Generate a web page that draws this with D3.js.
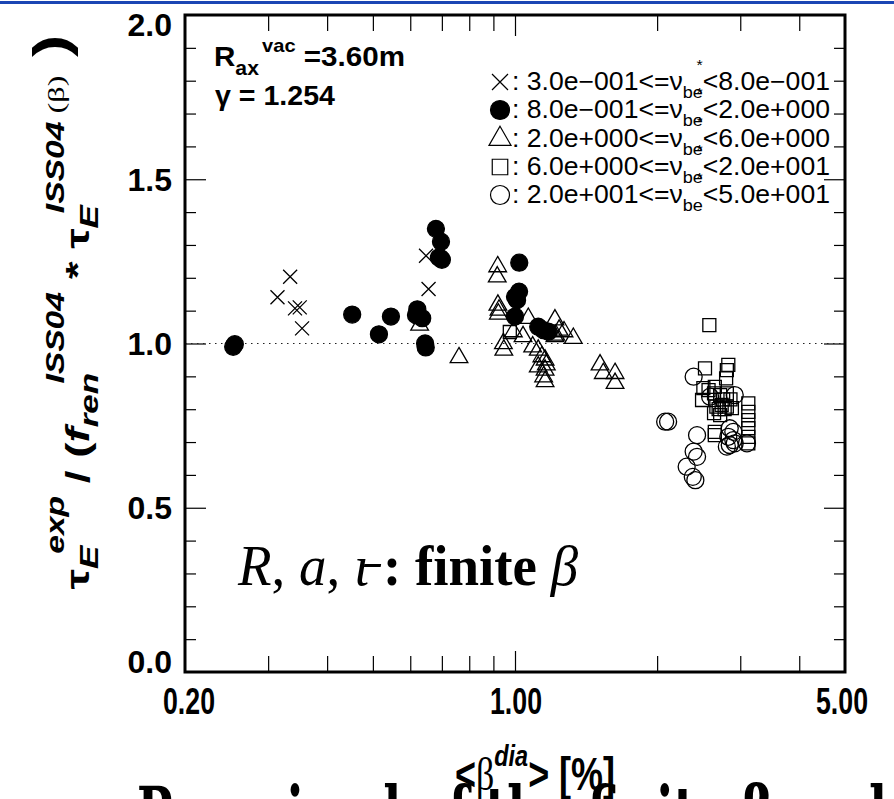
<!DOCTYPE html>
<html><head><meta charset="utf-8">
<script src="https://cdn.jsdelivr.net/npm/d3@7"></script>
<style>body{margin:0;background:#fff}svg{display:block}</style>
</head><body>
<script>
// ---------------- data ----------------
const crossX = [0.334, 0.314, 0.342, 0.350, 0.354, 0.648, 0.656];
const crossY = [1.203, 1.141, 1.107, 1.110, 1.046, 1.267, 1.166];

const dotX = [0.255, 0.253, 0.452, 0.515, 0.546, 0.621, 0.617, 0.636, 0.645, 0.647, 0.680, 0.697, 0.690, 0.700, 0.695, 1.021, 1.020, 1.000, 1.010, 1.000, 1.120, 1.148, 1.177];
const dotY = [0.998, 0.990, 1.088, 1.028, 1.082, 1.104, 1.087, 1.077, 1.000, 0.988, 1.349, 1.310, 1.262, 1.255, 1.260, 1.246, 1.158, 1.142, 1.132, 1.082, 1.051, 1.041, 1.036];

const triX = [0.628, 0.761, 0.919, 0.917, 0.920, 0.925, 0.922, 0.945, 0.947, 0.992, 1.067, 1.040, 1.090, 1.120, 1.215, 1.240, 1.270, 1.220, 1.215, 1.329, 1.158, 1.165, 1.158, 1.150, 1.158, 1.140, 1.120, 1.514, 1.538, 1.629, 1.629];
const triY = [1.056, 0.957, 1.234, 1.203, 1.117, 1.102, 1.090, 1.000, 0.980, 1.036, 1.077, 1.021, 0.990, 0.980, 1.072, 1.041, 1.036, 1.026, 1.021, 1.016, 0.950, 0.935, 0.919, 0.899, 0.884, 0.960, 0.929, 0.935, 0.909, 0.909, 0.879];

const sqX = [0.975, 2.58, 2.526, 2.83, 2.81, 2.80, 2.506, 2.57, 2.65, 2.49, 2.64, 2.72, 2.81, 2.67, 2.74, 2.81, 2.88, 2.64, 2.72, 3.12, 3.12, 3.12, 3.12, 3.12, 3.12, 2.65, 2.65, 2.76, 2.86, 2.70, 2.78];
const sqY = [1.035, 1.056, 0.924, 0.935, 0.919, 0.894, 0.864, 0.858, 0.868, 0.828, 0.848, 0.843, 0.848, 0.808, 0.813, 0.808, 0.803, 0.788, 0.782, 0.818, 0.792, 0.767, 0.742, 0.716, 0.696, 0.731, 0.721, 0.830, 0.830, 0.800, 0.800];

const ringX = [2.39, 2.11, 2.08, 2.43, 2.39, 2.43, 2.31, 2.38, 2.41, 2.92, 2.59, 2.85, 2.83, 2.90, 2.85, 2.81, 2.92, 3.10, 2.90];
const ringY = [0.899, 0.762, 0.762, 0.721, 0.671, 0.655, 0.625, 0.594, 0.584, 0.843, 0.838, 0.742, 0.716, 0.706, 0.691, 0.686, 0.696, 0.696, 0.731];

const legendLo = ["3.0e\u2212001", "8.0e\u2212001", "2.0e+000", "6.0e+000", "2.0e+001"];
const legendHi = ["8.0e\u2212001", "2.0e+000", "6.0e+000", "2.0e+001", "5.0e+001"];

const xMinorTicks = [0.3, 0.4, 0.5, 0.6, 0.7, 0.8, 0.9, 2, 3, 4];
const xMajorTicks = [1];
const xLabelValues = [0.2, 1, 5];
const xLabelText = ["0.20", "1.00", "5.00"];
const yMinorTicks = [0.1, 0.2, 0.3, 0.4, 0.6, 0.7, 0.8, 0.9, 1.1, 1.2, 1.3, 1.4, 1.6, 1.7, 1.8, 1.9];
const yMajorTicks = [0.5, 1.0, 1.5];
const yLabelValues = [0, 0.5, 1.0, 1.5, 2.0];
const yLabelText = ["0.0", "0.5", "1.0", "1.5", "2.0"];

// ---------------- drawing ----------------
const W = 894, H = 799;
const svg = d3.select("body").append("svg").attr("width", W).attr("height", H)
  .style("font-family", "'Liberation Sans', Arial, sans-serif");
svg.append("rect").attr("width", W).attr("height", H).attr("fill", "#fff");

// clipped slide caption at the bottom (only the tops of the tallest glyphs show)
svg.append("text").attr("x", 137).attr("y", 839).attr("font-size", 72).attr("font-weight", "bold")
  .style("font-family", "'DejaVu Serif', serif")
  .attr("textLength", 750).attr("lengthAdjust", "spacingAndGlyphs")
  .text("Remained of the finite \u03b2 and");

svg.append("rect").attr("x", 0).attr("y", 1).attr("width", W).attr("height", 3).attr("fill", "#1b46b4");

const L = 185, R = 845, T = 15, B = 672;
const x = d3.scaleLog().domain([0.2, 5]).range([L, R]);
const y = d3.scaleLinear().domain([0, 2]).range([B, T]);

function ticks(axis, pos, vals, size) {
  const g = svg.append("g").attr("transform", pos).call(axis.tickValues(vals).tickSize(-size).tickFormat(""));
  g.select(".domain").remove();
  g.selectAll("line").attr("stroke", "#000").attr("stroke-width", 1.2);
}
ticks(d3.axisBottom(x), `translate(0,${B})`, xMinorTicks, 16);
ticks(d3.axisBottom(x), `translate(0,${B})`, xMajorTicks, 21);
ticks(d3.axisTop(x), `translate(0,${T})`, xMinorTicks, 16);
ticks(d3.axisTop(x), `translate(0,${T})`, xMajorTicks, 21);
ticks(d3.axisLeft(y), `translate(${L},0)`, yMinorTicks, 11);
ticks(d3.axisLeft(y), `translate(${L},0)`, yMajorTicks, 21);
ticks(d3.axisRight(y), `translate(${R},0)`, yMinorTicks, 11);
ticks(d3.axisRight(y), `translate(${R},0)`, yMajorTicks, 21);

// reference line at 1.0
svg.append("line").attr("x1", x(0.2)).attr("x2", x(5)).attr("y1", y(1)).attr("y2", y(1))
  .attr("stroke", "#222").attr("stroke-width", 1.2).attr("stroke-dasharray", "1.5,4.5");

// frame
svg.append("rect").attr("x", L).attr("y", T).attr("width", R - L).attr("height", B - T)
  .attr("fill", "none").attr("stroke", "#000").attr("stroke-width", 3);

// tick labels
yLabelValues.forEach((v, i) => {
  const cy = Math.min(Math.max(y(v), 24), 661);
  svg.append("text").attr("x", 172).attr("y", cy + 11.5).attr("text-anchor", "end")
    .attr("font-size", 32).attr("font-weight", "bold").text(yLabelText[i]);
});
const xLabelShift = [4, 1, -3];
xLabelValues.forEach((v, i) => {
  svg.append("text").attr("x", x(v) + xLabelShift[i] - 26).attr("y", 714)
    .attr("font-size", 37).attr("font-weight", "bold")
    .attr("textLength", 52).attr("lengthAdjust", "spacingAndGlyphs").text(xLabelText[i]);
});

// markers
const gm = svg.append("g").attr("stroke", "#000").attr("stroke-width", 1.3);
function crossPath(cx, cy, h) { return `M${cx-h},${cy-h}L${cx+h},${cy+h}M${cx-h},${cy+h}L${cx+h},${cy-h}`; }
crossX.forEach((v, i) => gm.append("path").attr("d", crossPath(x(v), y(crossY[i]), 7)).attr("fill", "none"));
const tri = d3.symbol().type(d3.symbolTriangle).size(135);
const sq = d3.symbol().type(d3.symbolSquare).size(169);
triX.forEach((v, i) => gm.append("path").attr("d", tri()).attr("transform", `translate(${x(v)},${y(triY[i])})`).attr("fill", "none"));
sqX.forEach((v, i) => gm.append("path").attr("d", sq()).attr("transform", `translate(${x(v)},${y(sqY[i])})`).attr("fill", "none"));
ringX.forEach((v, i) => gm.append("circle").attr("cx", x(v)).attr("cy", y(ringY[i])).attr("r", 8.5).attr("fill", "none"));
dotX.forEach((v, i) => gm.append("circle").attr("cx", x(v)).attr("cy", y(dotY[i])).attr("r", 8.5).attr("fill", "#000"));

// legend
const legBase = [90, 118, 147, 175, 203];
const lg = svg.append("g");
legBase.forEach((b, i) => {
  const cx = 500, cy = b - 8;
  const m = lg.append("g").attr("stroke", "#000").attr("stroke-width", 1.2).attr("fill", "none");
  if (i === 0) m.append("path").attr("d", crossPath(cx, cy, 8));
  if (i === 1) m.append("circle").attr("cx", cx).attr("cy", cy).attr("r", 9.5).attr("fill", "#000");
  if (i === 2) m.append("path").attr("d", d3.symbol().type(d3.symbolTriangle).size(210)()).attr("transform", `translate(${cx},${cy})`);
  if (i === 3) m.append("path").attr("d", d3.symbol().type(d3.symbolSquare).size(240)()).attr("transform", `translate(${cx},${cy})`);
  if (i === 4) m.append("circle").attr("cx", cx).attr("cy", cy).attr("r", 9.5);
  const t = lg.append("text").attr("x", 512).attr("y", b).attr("font-size", 25)
    .attr("textLength", 318).attr("lengthAdjust", "spacingAndGlyphs");
  t.append("tspan").text(": " + legendLo[i] + "<=\u03bd");
  t.append("tspan").attr("font-size", 17).attr("dy", 8).text("be");
  t.append("tspan").attr("font-size", 15).attr("dy", -28).attr("dx", -6).text("*");
  t.append("tspan").attr("font-size", 25).attr("dy", 20).text("<" + legendHi[i]);
});

// annotation Rax / gamma
const t1 = svg.append("text").attr("x", 214).attr("y", 66).attr("font-size", 28).attr("font-weight", "bold")
  .attr("textLength", 191).attr("lengthAdjust", "spacingAndGlyphs");
t1.append("tspan").text("R");
t1.append("tspan").attr("font-size", 20).attr("dy", 9).text("ax");
t1.append("tspan").attr("font-size", 19).attr("dy", -23).attr("dx", 3).text("vac");
t1.append("tspan").attr("font-size", 28).attr("dy", 14).text(" =3.60m");
svg.append("text").attr("x", 215).attr("y", 105).attr("font-size", 28).attr("font-weight", "bold")
  .attr("textLength", 120).attr("lengthAdjust", "spacingAndGlyphs").text("\u03b3 = 1.254");

// finite beta label
const t2 = svg.append("text").attr("x", 238).attr("y", 585).attr("font-size", 56)
  .style("font-family", "'Liberation Serif', 'Times New Roman', serif")
  .attr("textLength", 340).attr("lengthAdjust", "spacingAndGlyphs");
t2.append("tspan").attr("font-style", "italic").text("R");
t2.append("tspan").text(", ");
t2.append("tspan").attr("font-style", "italic").text("a");
t2.append("tspan").text(", ");
t2.append("tspan").attr("font-style", "italic").text("\u03b9\u0335");
t2.append("tspan").attr("font-weight", "bold").text(" : finite ");
t2.append("tspan").attr("font-style", "italic").text("\u03b2");

// x title
const t3 = svg.append("text").attr("x", 455).attr("y", 790).attr("font-size", 46).attr("font-weight", "bold")
  .attr("textLength", 160).attr("lengthAdjust", "spacingAndGlyphs");
t3.append("tspan").text("<");
t3.append("tspan").attr("font-weight", "normal").style("font-family", "'Liberation Serif', serif").text("\u03b2");
t3.append("tspan").attr("font-size", 30).attr("font-style", "italic").attr("dy", -24).text("dia");
t3.append("tspan").attr("dy", 24).text(">");
t3.append("tspan").text(" [%]");

// y title (rotated)
const t4 = svg.append("text").attr("transform", "translate(89,312) rotate(-90)")
  .attr("text-anchor", "middle").attr("font-size", 34).attr("font-weight", "bold")
  .attr("textLength", 555).attr("lengthAdjust", "spacingAndGlyphs");
t4.append("tspan").text("\u03c4");
t4.append("tspan").attr("font-size", 26).attr("font-style", "italic").attr("dy", 9).text("E");
t4.append("tspan").attr("font-size", 25).attr("font-style", "italic").attr("dy", -34).attr("dx", -6).text("exp");
t4.append("tspan").attr("dy", 25).text(" / (");
t4.append("tspan").attr("font-style", "italic").text("f");
t4.append("tspan").attr("font-size", 26).attr("font-style", "italic").attr("dy", 9).text("ren");
t4.append("tspan").attr("font-size", 25).attr("font-style", "italic").attr("dy", -34).attr("dx", -8).text("ISS04");
t4.append("tspan").attr("dy", 25).text(" * \u03c4");
t4.append("tspan").attr("font-size", 26).attr("font-style", "italic").attr("dy", 9).text("E");
t4.append("tspan").attr("font-size", 25).attr("font-style", "italic").attr("dy", -34).attr("dx", -6).text("ISS04");
t4.append("tspan").attr("font-size", 24).attr("font-weight", "normal").style("font-family", "'Liberation Serif', serif").text(" (\u03b2)");
t4.append("tspan").attr("font-size", 50).attr("dy", 4).text(" )");
</script>
</body></html>
